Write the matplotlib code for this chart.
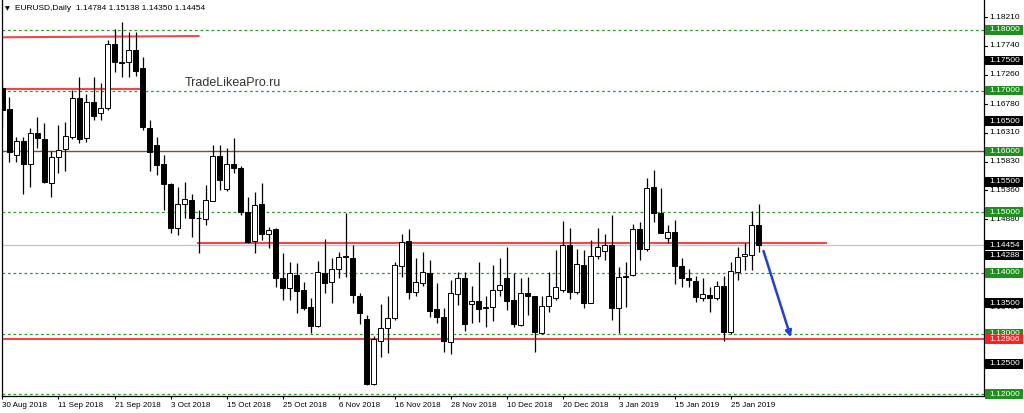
import matplotlib
matplotlib.use("Agg")
import matplotlib.pyplot as plt
import matplotlib.transforms as mtransforms
from matplotlib.patches import Rectangle

plt.rcParams['font.family'] = ['Liberation Sans', 'DejaVu Sans']

# EURUSD daily bars, 30 Aug 2018 .. 31 Jan 2019
opens = [1.1704, 1.1670, 1.1594, 1.1617, 1.1579, 1.1630, 1.1620, 1.1548, 1.1590, 1.1604,
         1.1624, 1.1688, 1.1622, 1.1681, 1.1663, 1.1672, 1.1777, 1.1748, 1.1747, 1.1767,
         1.1737, 1.1639, 1.1610, 1.1579, 1.1546, 1.1474, 1.1513, 1.1520, 1.1490, 1.1489,
         1.1518, 1.1592, 1.1538, 1.1579, 1.1573, 1.1500, 1.1452, 1.1513, 1.1464, 1.1472,
         1.1391, 1.1375, 1.1396, 1.1372, 1.1344, 1.1312, 1.1400, 1.1385, 1.1406, 1.1426,
         1.1424, 1.1362, 1.1324, 1.1217, 1.1288, 1.1309, 1.1326, 1.1411, 1.1452, 1.1368,
         1.1383, 1.1400, 1.1340, 1.1327, 1.1286, 1.1365, 1.1391, 1.1349, 1.1353, 1.1342,
         1.1343, 1.1371, 1.1392, 1.1356, 1.1314, 1.1367, 1.1361, 1.1301, 1.1346, 1.1358,
         1.1372, 1.1445, 1.1369, 1.1413, 1.1351, 1.1428, 1.1436, 1.1445, 1.1342, 1.1393,
         1.1396, 1.1472, 1.1439, 1.1542, 1.1499, 1.1458, 1.1467, 1.1411, 1.1391, 1.1387,
         1.1358, 1.1363, 1.1358, 1.1379, 1.1302, 1.1402, 1.1427, 1.1430, 1.14784]
highs = [1.1717, 1.1690, 1.1624, 1.1624, 1.1639, 1.1657, 1.1647, 1.1600, 1.1643, 1.1648,
         1.1701, 1.1722, 1.1695, 1.1723, 1.1713, 1.1784, 1.1802, 1.1813, 1.1797, 1.1797,
         1.1756, 1.1652, 1.1624, 1.1594, 1.1548, 1.1541, 1.1550, 1.1530, 1.1503, 1.1545,
         1.1611, 1.1611, 1.1606, 1.1622, 1.1576, 1.1525, 1.1533, 1.1548, 1.1476, 1.1474,
         1.1433, 1.1418, 1.1416, 1.1385, 1.1358, 1.1419, 1.1456, 1.1424, 1.1434, 1.1499,
         1.1446, 1.1367, 1.1330, 1.1296, 1.1349, 1.1362, 1.1418, 1.1464, 1.1472, 1.1424,
         1.1434, 1.1421, 1.1383, 1.1342, 1.1388, 1.1401, 1.1401, 1.1378, 1.1418, 1.1361,
         1.1413, 1.1424, 1.1443, 1.1399, 1.1391, 1.1393, 1.1361, 1.1362, 1.1402, 1.1438,
         1.1486, 1.1474, 1.1440, 1.1438, 1.1454, 1.1473, 1.1464, 1.1495, 1.1410, 1.1418,
         1.1480, 1.1483, 1.1557, 1.1569, 1.1539, 1.1479, 1.1487, 1.1424, 1.1406, 1.1394,
         1.1391, 1.1377, 1.1387, 1.1394, 1.1417, 1.1442, 1.1449, 1.1501, 1.15138]
lows = [1.1640, 1.1583, 1.1583, 1.1530, 1.1541, 1.1606, 1.1548, 1.1525, 1.1564, 1.1568,
        1.1620, 1.1614, 1.1616, 1.1652, 1.1652, 1.1668, 1.1731, 1.1723, 1.1723, 1.1724,
        1.1636, 1.1568, 1.1561, 1.1503, 1.1466, 1.1462, 1.1490, 1.1459, 1.1433, 1.1479,
        1.1518, 1.1536, 1.1535, 1.1564, 1.1495, 1.1449, 1.1433, 1.1454, 1.1441, 1.1377,
        1.1355, 1.1355, 1.1334, 1.1339, 1.1301, 1.1311, 1.1367, 1.1350, 1.1391, 1.1393,
        1.1350, 1.1316, 1.1215, 1.1215, 1.1261, 1.1268, 1.1322, 1.1393, 1.1357, 1.1362,
        1.1378, 1.1327, 1.1317, 1.1270, 1.1266, 1.1347, 1.1304, 1.1318, 1.1319, 1.1310,
        1.1321, 1.1362, 1.1339, 1.1311, 1.1312, 1.1330, 1.1269, 1.1300, 1.1336, 1.1355,
        1.1369, 1.1357, 1.1365, 1.1342, 1.1350, 1.1423, 1.1421, 1.1323, 1.1301, 1.1344,
        1.1394, 1.1421, 1.1436, 1.1483, 1.1465, 1.1449, 1.1382, 1.1376, 1.1376, 1.1352,
        1.1354, 1.1336, 1.1355, 1.1287, 1.1300, 1.1388, 1.1404, 1.1405, 1.14350]
closes = [1.1668, 1.1599, 1.1617, 1.1579, 1.1630, 1.1622, 1.1550, 1.1591, 1.1602, 1.1625,
          1.1688, 1.1621, 1.1681, 1.1658, 1.1671, 1.1777, 1.1747, 1.1746, 1.1767, 1.1732,
          1.1640, 1.1599, 1.1578, 1.1546, 1.1474, 1.1513, 1.1522, 1.1490, 1.1491, 1.1520,
          1.1592, 1.1553, 1.1579, 1.1573, 1.1500, 1.1451, 1.1512, 1.1464, 1.1470, 1.1391,
          1.1375, 1.1400, 1.1370, 1.1342, 1.1312, 1.1401, 1.1383, 1.1406, 1.1426, 1.1427,
          1.1363, 1.1334, 1.1217, 1.1291, 1.1309, 1.1326, 1.1413, 1.1451, 1.1368, 1.1385,
          1.1401, 1.1337, 1.1327, 1.1288, 1.1367, 1.1391, 1.1316, 1.1353, 1.1341, 1.1343,
          1.1372, 1.1380, 1.1354, 1.1316, 1.1367, 1.1362, 1.1303, 1.1346, 1.1361, 1.1376,
          1.1445, 1.1369, 1.1415, 1.1351, 1.1427, 1.1442, 1.1445, 1.1342, 1.1393, 1.1394,
          1.1472, 1.1439, 1.1540, 1.1498, 1.1466, 1.1467, 1.1411, 1.1391, 1.1388, 1.1360,
          1.1365, 1.1359, 1.1379, 1.1302, 1.1403, 1.1426, 1.1431, 1.1478, 1.14454]

date_labels = ['30 Aug 2018', '11 Sep 2018', '21 Sep 2018', '3 Oct 2018', '15 Oct 2018',
               '25 Oct 2018', '6 Nov 2018', '16 Nov 2018', '28 Nov 2018', '10 Dec 2018',
               '20 Dec 2018', '3 Jan 2019', '15 Jan 2019', '25 Jan 2019']
bars_per_label = 8

green_levels = [1.18, 1.17, 1.15, 1.14, 1.13, 1.12]
brown_level = 1.16
support_level = 1.12906
last_price = 1.14454

# right price scale: plain ticks, then boxed labels
plain_ticks = ['1.18210', '1.17740', '1.17260', '1.16780', '1.16310', '1.15830',
               '1.15360', '1.14880', '1.13950', '1.13430']
green_boxes = ['1.18000', '1.17000', '1.16000', '1.15000', '1.14000', '1.13000', '1.12000']
black_boxes = ['1.17500', '1.16500', '1.15500', '1.14454', '1.14288', '1.13500', '1.12500']
red_boxes = ['1.12906']

W, H = 1024, 413
fig = plt.figure(figsize=(W / 100, H / 100), dpi=100)
ax = fig.add_axes([2 / W, 17 / H, 982 / W, 396 / H])
ax.set_xlim(-0.07, 140.2)
ax.set_ylim(1.119704, 1.184942)

n = len(opens)
xs = list(range(n))

# levels
for lv in green_levels:
    ax.axhline(lv, color='#2f9a2f', lw=0.9, ls=(0, (2.2, 2.2)), zorder=1)
ax.axhline(brown_level, color='#8b4a2b', lw=1.0, zorder=1)
ax.axhline(last_price, color='#c8c8c8', lw=1.0, zorder=1)
ax.axhline(support_level, color='#f04848', lw=1.5, zorder=1)
ax.plot([-0.07, 28], [1.1788, 1.1790], color='#f04848', lw=1.5, zorder=1)
ax.plot([-0.07, 20.1], [1.1703, 1.1703], color='#f04848', lw=1.5, zorder=1)
ax.plot([27.9, 117.6], [1.1449, 1.1449], color='#f04848', lw=1.5, zorder=1)

# candles
ax.vlines(xs, lows, highs, color='black', lw=0.9, zorder=2)
for i in xs:
    o, c = opens[i], closes[i]
    lo, hi = min(o, c), max(o, c)
    h = max(hi - lo, 0.00006)
    face = 'white' if c > o else 'black'
    ax.bar(i, h, bottom=lo, width=0.6, color=face, edgecolor='black',
           linewidth=0.7, zorder=3)

# forecast arrow
ax.annotate('', xy=(112.6, 1.1294), xytext=(108.7, 1.1436),
            arrowprops=dict(arrowstyle='-|>', color='#1f3fe0', lw=1.8,
                            mutation_scale=9, shrinkA=0, shrinkB=0), zorder=5)

ax.text(183 / 982, 1 - 83 / 396, 'TradeLikeaPro.ru', transform=ax.transAxes,
        fontsize=9, color='#333333', va='center', ha='left')

# title
fig.text(5 / W, 1 - 9 / H, '\u25bc', fontsize=4.5, va='center', ha='left',
         family='DejaVu Sans')
fig.text(15 / W, 1 - 9 / H, 'EURUSD,Daily  1.14784 1.15138 1.14350 1.14454',
         fontsize=6, va='center', ha='left')

# spines and date axis
for s in ['top']:
    ax.spines[s].set_visible(False)
for s in ['left', 'right', 'bottom']:
    ax.spines[s].set_linewidth(0.9)
ax.set_yticks([])
ax.set_xticks([k * bars_per_label for k in range(len(date_labels))])
ax.set_xticklabels(date_labels, ha='left', fontsize=5.8)
ax.tick_params(axis='x', length=2.5, width=0.8, pad=1.5)

# right price scale
yblend = mtransforms.blended_transform_factory(fig.transFigure, ax.transData)
for t in plain_ticks:
    p = float(t)
    ax.plot([984 / W, 987 / W], [p, p], color='black', lw=0.8, transform=yblend,
            clip_on=False, zorder=6)
    ax.text(989 / W, p, t, transform=yblend, fontsize=6, va='center', ha='left',
            color='black', zorder=6)
for labels, col in [(green_boxes, '#1f8f1f'), (black_boxes, 'black'), (red_boxes, '#ff2020')]:
    for t in labels:
        p = float(t)
        ax.add_patch(Rectangle((985 / W, p - 0.00079), 38 / W, 0.00158, transform=yblend,
                               facecolor=col, edgecolor='none', clip_on=False, zorder=7))
        ax.text(989 / W, p, t, transform=yblend, fontsize=6, va='center', ha='left',
                color='white', zorder=8)

fig.savefig('out.png', dpi=100)
